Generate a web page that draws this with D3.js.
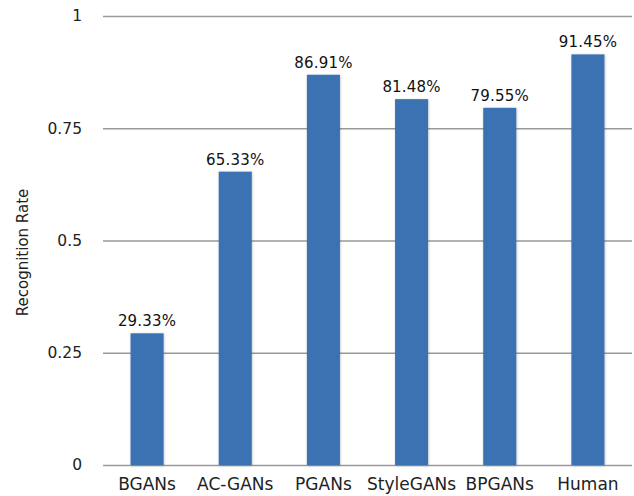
<!DOCTYPE html>
<html>
<head>
<meta charset="utf-8">
<script src="https://cdn.jsdelivr.net/npm/d3@7"></script>
<style>
  html, body { margin: 0; padding: 0; background: #fff; }
  svg { display: block; }
</style>
</head>
<body>
<svg id="chart" width="634" height="496"></svg>
<script>
// Recognition rate per model
const categories = ["BGANs", "AC-GANs", "PGANs", "StyleGANs", "BPGANs", "Human"];
const rates = [0.2933, 0.6533, 0.8691, 0.8148, 0.7955, 0.9145];
const valueLabels = ["29.33%", "65.33%", "86.91%", "81.48%", "79.55%", "91.45%"];
const yTicks = [0, 0.25, 0.5, 0.75, 1];
const yTickLabels = ["0", "0.25", "0.5", "0.75", "1"];
const yTitle = "Recognition Rate";

const svg = d3.select("#chart");
const margin = { left: 103, right: 2, top: 16, bottom: 31 };
const W = 634, H = 496;

const x = d3.scaleBand()
  .domain(categories)
  .range([margin.left, W - margin.right])
  .paddingInner(0.625)
  .paddingOuter(0.3125);

const y = d3.scaleLinear()
  .domain([0, 1])
  .range([H - margin.bottom, margin.top]);

const font = "'DejaVu Sans', 'Noto Sans', sans-serif";

// Gridlines with tick labels
const yAxis = d3.axisLeft(y)
  .tickValues(yTicks)
  .tickFormat((d, i) => yTickLabels[i])
  .tickSize(-(W - margin.left - margin.right))
  .tickPadding(21);

const gy = svg.append("g")
  .attr("transform", `translate(${margin.left},0)`)
  .call(yAxis);
gy.select(".domain").remove();
gy.selectAll(".tick line")
  .attr("stroke", "#9a9a9a")
  .attr("stroke-width", 1.6);
gy.selectAll(".tick text")
  .attr("fill", "#222")
  .style("font-family", font)
  .style("font-size", "15.5px");

// Soft shadow under bars
const defs = svg.append("defs");
const f = defs.append("filter").attr("id", "shadow")
  .attr("x", "-20%").attr("y", "-5%").attr("width", "140%").attr("height", "110%");
f.append("feDropShadow")
  .attr("dx", 0.5).attr("dy", 0.5).attr("stdDeviation", 1)
  .attr("flood-color", "#000").attr("flood-opacity", 0.25);

// Bars
svg.append("g").selectAll("rect")
  .data(categories)
  .join("rect")
  .attr("x", d => x(d))
  .attr("y", (d, i) => y(rates[i]))
  .attr("width", x.bandwidth())
  .attr("height", (d, i) => y(0) - y(rates[i]))
  .attr("fill", "#3b72b1")
  .attr("filter", "url(#shadow)");

// Value labels above bars
svg.append("g").selectAll("text")
  .data(categories)
  .join("text")
  .attr("x", d => x(d) + x.bandwidth() / 2)
  .attr("y", (d, i) => y(rates[i]) - 7)
  .attr("text-anchor", "middle")
  .attr("fill", "#111")
  .style("font-family", font)
  .style("font-size", "15px")
  .style("letter-spacing", "0.2px")
  .text((d, i) => valueLabels[i]);

// Category labels
const xAxis = d3.axisBottom(x).tickSize(0).tickPadding(13);
const gx = svg.append("g")
  .attr("transform", `translate(0,${y(0)})`)
  .call(xAxis);
gx.select(".domain").remove();
gx.selectAll(".tick text")
  .attr("fill", "#222")
  .style("font-family", font)
  .style("font-size", "17px");

// Y-axis title
svg.append("text")
  .attr("transform", `translate(28,${(y(0) + y(1)) / 2 + 12}) rotate(-90)`)
  .attr("text-anchor", "middle")
  .attr("fill", "#222")
  .style("font-family", font)
  .style("font-size", "15px")
  .text(yTitle);
</script>
</body>
</html>
